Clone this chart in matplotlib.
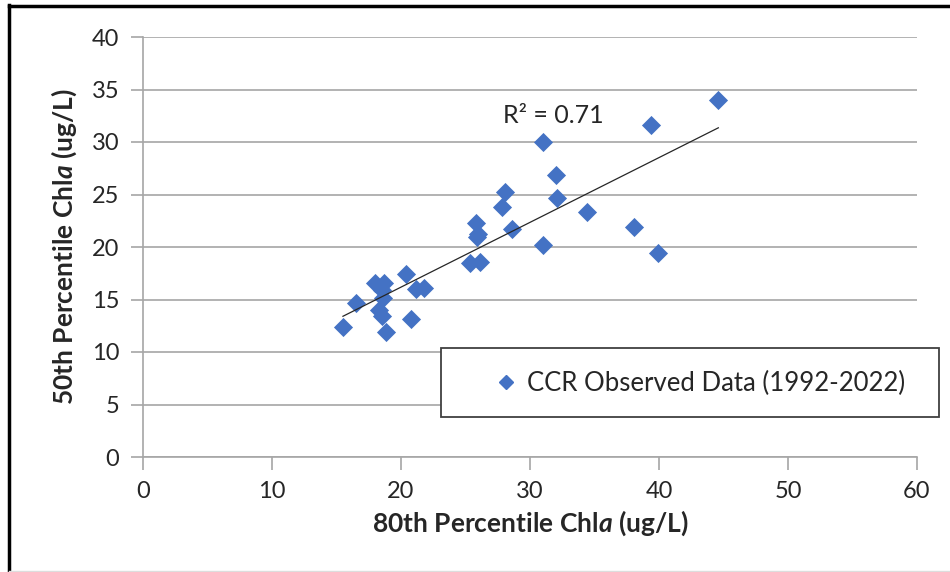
import numpy as np
import matplotlib
matplotlib.use("Agg")
import matplotlib.pyplot as plt
from matplotlib.lines import Line2D
from matplotlib.patches import Rectangle

plt.rcParams['font.family'] = ['Lato', 'DejaVu Sans']
plt.rcParams['mathtext.fontset'] = 'custom'
plt.rcParams['mathtext.it'] = 'Lato:italic:bold'
plt.rcParams['mathtext.rm'] = 'Lato:bold'

# 80th percentile vs 50th percentile Chla (ug/L)
p80 = [15.5, 16.5, 18.0, 18.7, 18.5, 18.6, 18.3, 18.5, 18.8, 20.4, 21.2, 21.8,
       20.8, 25.35, 26.1, 25.8, 25.9, 26.0, 27.8, 28.1, 28.6, 31.0, 31.0, 32.0,
       32.1, 34.4, 38.1, 39.9, 39.4, 44.6]
p50 = [12.4, 14.7, 16.6, 16.6, 15.9, 15.1, 14.0, 13.4, 11.9, 17.4, 16.0, 16.1,
       13.1, 18.45, 18.6, 22.3, 21.0, 21.2, 23.8, 25.2, 21.7, 30.0, 20.2, 26.9,
       24.7, 23.3, 21.9, 19.4, 31.6, 34.0]
r2_label = "R² = 0.71"
legend_label = "CCR Observed Data (1992-2022)"

blue = "#4472C4"
grid = "#A6A6A6"
txt = "#262626"

fig = plt.figure(figsize=(9.5, 5.72), dpi=100)
ax = fig.add_axes([143/950, 1-457/572, (917-143)/950, (457-37)/572])

ax.scatter(p80, p50, marker='D', s=95, color=blue, zorder=3, linewidths=0)

# linear trendline across data range
k, b = np.polyfit(p80, p50, 1)
xs = np.array([min(p80), max(p80)])
ax.plot(xs, k*xs + b, color='#262626', lw=0.9, zorder=4)

ax.text(27.9, 32.5, r2_label, fontsize=18, va='center', ha='left', color=txt)

ax.set_xlim(0, 60)
ax.set_ylim(0, 40)
ax.set_xticks(range(0, 61, 10))
ax.set_yticks(range(0, 41, 5))
ax.grid(axis='y', color=grid, lw=1.2)
ax.set_axisbelow(True)
for s in ['top', 'right']:
    ax.spines[s].set_visible(False)
for s in ['left', 'bottom']:
    ax.spines[s].set_color(grid)
    ax.spines[s].set_linewidth(1.2)
ax.tick_params(axis='both', colors=grid, labelcolor=txt, labelsize=17,
               length=9, width=1.2)
ax.tick_params(axis='x', pad=8)
ax.tick_params(axis='y', pad=8)

ax.set_xlabel(r"80th Percentile Chl$\it{a}$ (ug/L)", fontsize=19, fontweight='bold',
              color=txt, labelpad=5)
ax.set_ylabel(r"50th Percentile Chl$\it{a}$ (ug/L)", fontsize=19, fontweight='bold',
              color=txt, labelpad=9)

# legend box
fig.add_artist(Rectangle((441/950, 1-417/572), 498/950, 69/572,
                         transform=fig.transFigure, facecolor='white',
                         edgecolor='#404040', lw=1.3, zorder=5))
handle = Line2D([], [], marker='D', color=blue, ls='none', markersize=7)
leg = fig.legend([handle], [legend_label], loc='center',
                 bbox_to_anchor=(698/950, 1-383/572), fontsize=18.5,
                 frameon=False, handletextpad=0.2, handlelength=1.2)
leg.set_zorder(6)
for t in leg.get_texts():
    t.set_color(txt)

# outer frame of the picture
fig.add_artist(Line2D([9/950, 9/950], [0, 1-5/572], transform=fig.transFigure,
                      color='black', lw=2.5))
fig.add_artist(Line2D([9/950, 1], [1-6/572, 1-6/572], transform=fig.transFigure,
                      color='black', lw=2.5))
fig.add_artist(Line2D([9/950, 1], [1.5/572, 1.5/572], transform=fig.transFigure,
                      color='#DDDDDD', lw=1))

fig.savefig("out.png", dpi=100)
